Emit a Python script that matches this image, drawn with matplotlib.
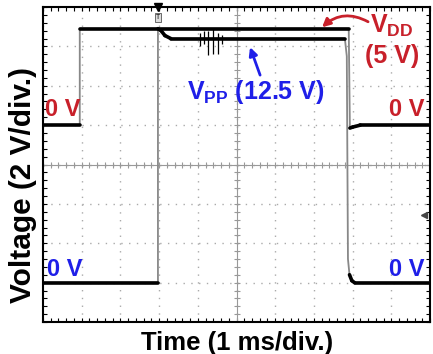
import numpy as np
import matplotlib.pyplot as plt

plt.rcParams['font.family'] = ['Liberation Sans', 'DejaVu Sans']
plt.rcParams['mathtext.fontset'] = 'custom'
plt.rcParams['mathtext.bf'] = 'Liberation Sans:bold'
plt.rcParams['mathtext.rm'] = 'Liberation Sans'

# scope screen: 10 x 8 divisions, 1 ms/div and 2 V/div
n_xdiv, n_ydiv = 10, 8
time_div = 1.0
volt_div = 2.0

# channel zero levels on the screen (V)
vdd_offset = 10.0
vpp_offset = 2.0

# VDD trace (ms, V)
vdd_t = [0.0, 0.95, 0.95, 7.9, 7.93, 8.0, 8.2, 10.0]
vdd_v = [0.0, 0.0, 4.9, 4.9, -0.15, -0.1, 0.0, 0.0]

# VPP trace (ms, V)
vpp_t = [0.0, 2.97, 2.97, 3.05, 3.15, 3.3, 7.8, 7.85, 7.88, 7.92, 7.98, 8.05, 10.0]
vpp_v = [0.0, 0.0, 12.9, 12.8, 12.55, 12.4, 12.4, 11.5, 1.2, 0.4, 0.1, 0.0, 0.0]

# switching glitches on the VPP rail
glitch_t = [4.05, 4.15, 4.26, 4.39, 4.52, 4.62]
glitch_lo = [12.0, 12.1, 11.55, 11.6, 11.6, 12.1]
glitch_hi = [12.7, 12.8, 12.8, 12.9, 12.7, 12.6]

red = '#c8202a'
blue = '#1f1fe8'

fig = plt.figure(figsize=(4.33, 3.54), dpi=100)
ax = fig.add_axes([43 / 433, 1 - 322 / 354, 387 / 433, 315 / 354])
xmax = n_xdiv * time_div
ymax = n_ydiv * volt_div
ax.set_xlim(0, xmax)
ax.set_ylim(0, ymax)

# graticule
ax.set_xticks(np.arange(0, xmax + 0.01, time_div))
ax.set_yticks(np.arange(0, ymax + 0.01, volt_div))
ax.set_xticks(np.arange(0, xmax + 0.01, time_div / 5), minor=True)
ax.set_yticks(np.arange(0, ymax + 0.01, volt_div / 5), minor=True)
ax.tick_params(which='both', direction='in', length=3, width=0.8, top=True, right=True,
               labelbottom=False, labelleft=False)
ax.grid(True, which='major', color='#aaaaaa', lw=1.0, linestyle=(0, (1, 4.6)))
for s in ax.spines.values():
    s.set_linewidth(1.5)

xc, yc = xmax / 2, ymax / 2
ax.axhline(yc, color='#999999', lw=0.8)
ax.axvline(xc, color='#999999', lw=0.8)
ax.plot(np.arange(0, xmax, time_div / 5), np.full(int(n_xdiv * 5), yc), ls='none',
        marker='|', ms=5, color='#999999', mew=0.8)
ax.plot(np.full(int(n_ydiv * 5), xc), np.arange(0, ymax, volt_div / 5), ls='none',
        marker='_', ms=5, color='#999999', mew=0.8)


def draw_trace(t, v, offset):
    t = np.asarray(t)
    v = np.asarray(v) + offset
    ax.plot(t, v, color='#888888', lw=1.3, zorder=3)
    for i in range(len(t) - 1):
        dt = t[i + 1] - t[i]
        if dt > 0 and abs(v[i + 1] - v[i]) / dt < 10:
            ax.plot(t[i:i + 2], v[i:i + 2], color='black', lw=2.6,
                    solid_capstyle='round', zorder=4)


draw_trace(vdd_t, vdd_v, vdd_offset)
draw_trace(vpp_t, vpp_v, vpp_offset)
ax.vlines(glitch_t, np.array(glitch_lo) + vpp_offset, np.array(glitch_hi) + vpp_offset,
          color='black', lw=0.9, zorder=4)

# trigger marks
ax.plot([2.97], [ymax], marker='v', ms=6, color='black', clip_on=False, zorder=6)
ax.text(2.97, ymax - 0.55, 'T', fontsize=5, ha='center', va='center', zorder=6,
        bbox=dict(boxstyle='square,pad=0.15', fc='#dddddd', ec='#555555', lw=0.6))
ax.plot([9.85], [5.43], marker='<', ms=4, color='#444444', zorder=6)

# channel labels
bold = dict(fontweight='bold')
ax.text(0.05, 10.8, '0 V', color=red, fontsize=17, ha='left', va='center', **bold)
ax.text(9.87, 10.8, '0 V', color=red, fontsize=17, ha='right', va='center', **bold)
ax.text(0.1, 2.65, '0 V', color=blue, fontsize=17, ha='left', va='center', **bold)
ax.text(9.87, 2.65, '0 V', color=blue, fontsize=17, ha='right', va='center', **bold)

ax.text(8.45, 14.67, r'$\mathbf{V_{DD}}$', color=red, fontsize=18, ha='left', va='baseline')
ax.text(9.03, 13.53, '(5 V)', color=red, fontsize=18, ha='center', va='center', **bold)
ax.annotate('', xy=(7.21, 14.97), xytext=(8.4, 15.25),
            arrowprops=dict(arrowstyle='-|>', color=red, lw=2, mutation_scale=12,
                            connectionstyle='arc3,rad=0.35', shrinkA=0, shrinkB=0))

ax.text(5.5, 11.68, r'$\mathbf{V_{PP}}$ (12.5 V)', color=blue, fontsize=18,
        ha='center', va='center', **bold)
ax.annotate('', xy=(5.35, 13.96), xytext=(5.61, 12.54),
            arrowprops=dict(arrowstyle='-|>', color=blue, lw=2, mutation_scale=12,
                            shrinkA=0, shrinkB=0))

fig.text(237 / 433, 1 - 343 / 354, 'Time (1 ms/div.)', fontsize=18.5, ha='center',
         va='center', **bold)
fig.text(23 / 433, 1 - 185 / 354, 'Voltage (2 V/div.)', fontsize=21.5, rotation=90,
         ha='center', va='center', **bold)

fig.savefig('out.png', dpi=100)
